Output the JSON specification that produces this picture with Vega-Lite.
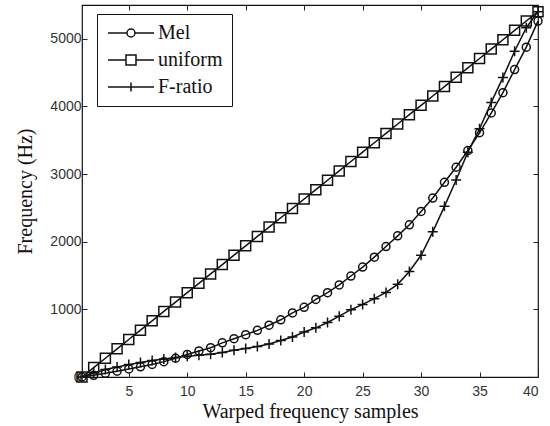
{
  "$schema": "https://vega.github.io/schema/vega-lite/v6.json",
  "width": 456,
  "height": 372,
  "autosize": {"type": "none"},
  "padding": {"left": 82, "top": 5, "right": 12, "bottom": 49},
  "background": "white",
  "config": {
    "view": {"stroke": "#111", "strokeWidth": 1.2},
    "axis": {
      "domain": false,
      "grid": false,
      "ticks": true,
      "tickSize": -5,
      "tickColor": "#222",
      "tickWidth": 1,
      "labelFont": "Liberation Sans",
      "labelFontSize": 14,
      "labelColor": "#333",
      "titleFont": "Liberation Serif",
      "titleFontSize": 20,
      "titleFontWeight": "normal",
      "titleColor": "#111"
    }
  },
  "data": {
    "values": [
      {"x": 1, "series": "Mel", "f": 0}, {"x": 2, "series": "Mel", "f": 25}, {"x": 3, "series": "Mel", "f": 55}, {"x": 4, "series": "Mel", "f": 85},
      {"x": 5, "series": "Mel", "f": 119}, {"x": 6, "series": "Mel", "f": 150}, {"x": 7, "series": "Mel", "f": 186}, {"x": 8, "series": "Mel", "f": 227},
      {"x": 9, "series": "Mel", "f": 277}, {"x": 10, "series": "Mel", "f": 333}, {"x": 11, "series": "Mel", "f": 385}, {"x": 12, "series": "Mel", "f": 433},
      {"x": 13, "series": "Mel", "f": 505}, {"x": 14, "series": "Mel", "f": 566}, {"x": 15, "series": "Mel", "f": 626}, {"x": 16, "series": "Mel", "f": 690},
      {"x": 17, "series": "Mel", "f": 766}, {"x": 18, "series": "Mel", "f": 846}, {"x": 19, "series": "Mel", "f": 948}, {"x": 20, "series": "Mel", "f": 1030},
      {"x": 21, "series": "Mel", "f": 1147}, {"x": 22, "series": "Mel", "f": 1246}, {"x": 23, "series": "Mel", "f": 1362}, {"x": 24, "series": "Mel", "f": 1493},
      {"x": 25, "series": "Mel", "f": 1625}, {"x": 26, "series": "Mel", "f": 1772}, {"x": 27, "series": "Mel", "f": 1929}, {"x": 28, "series": "Mel", "f": 2087},
      {"x": 29, "series": "Mel", "f": 2250}, {"x": 30, "series": "Mel", "f": 2448}, {"x": 31, "series": "Mel", "f": 2646}, {"x": 32, "series": "Mel", "f": 2879},
      {"x": 33, "series": "Mel", "f": 3101}, {"x": 34, "series": "Mel", "f": 3348}, {"x": 35, "series": "Mel", "f": 3611}, {"x": 36, "series": "Mel", "f": 3903},
      {"x": 37, "series": "Mel", "f": 4204}, {"x": 38, "series": "Mel", "f": 4545}, {"x": 39, "series": "Mel", "f": 4877}, {"x": 40, "series": "Mel", "f": 5262},

      {"x": 1, "series": "uniform", "f": 0}, {"x": 2, "series": "uniform", "f": 139}, {"x": 3, "series": "uniform", "f": 277}, {"x": 4, "series": "uniform", "f": 416},
      {"x": 5, "series": "uniform", "f": 554}, {"x": 6, "series": "uniform", "f": 693}, {"x": 7, "series": "uniform", "f": 831}, {"x": 8, "series": "uniform", "f": 970},
      {"x": 9, "series": "uniform", "f": 1108}, {"x": 10, "series": "uniform", "f": 1247}, {"x": 11, "series": "uniform", "f": 1385}, {"x": 12, "series": "uniform", "f": 1524},
      {"x": 13, "series": "uniform", "f": 1662}, {"x": 14, "series": "uniform", "f": 1801}, {"x": 15, "series": "uniform", "f": 1939}, {"x": 16, "series": "uniform", "f": 2078},
      {"x": 17, "series": "uniform", "f": 2216}, {"x": 18, "series": "uniform", "f": 2355}, {"x": 19, "series": "uniform", "f": 2493}, {"x": 20, "series": "uniform", "f": 2632},
      {"x": 21, "series": "uniform", "f": 2770}, {"x": 22, "series": "uniform", "f": 2909}, {"x": 23, "series": "uniform", "f": 3047}, {"x": 24, "series": "uniform", "f": 3186},
      {"x": 25, "series": "uniform", "f": 3324}, {"x": 26, "series": "uniform", "f": 3463}, {"x": 27, "series": "uniform", "f": 3601}, {"x": 28, "series": "uniform", "f": 3740},
      {"x": 29, "series": "uniform", "f": 3878}, {"x": 30, "series": "uniform", "f": 4017}, {"x": 31, "series": "uniform", "f": 4155}, {"x": 32, "series": "uniform", "f": 4294},
      {"x": 33, "series": "uniform", "f": 4432}, {"x": 34, "series": "uniform", "f": 4571}, {"x": 35, "series": "uniform", "f": 4709}, {"x": 36, "series": "uniform", "f": 4848},
      {"x": 37, "series": "uniform", "f": 4986}, {"x": 38, "series": "uniform", "f": 5125}, {"x": 39, "series": "uniform", "f": 5263}, {"x": 40, "series": "uniform", "f": 5402},

      {"x": 1, "series": "F-ratio", "f": 0}, {"x": 2, "series": "F-ratio", "f": 60}, {"x": 3, "series": "F-ratio", "f": 110}, {"x": 4, "series": "F-ratio", "f": 148},
      {"x": 5, "series": "F-ratio", "f": 183}, {"x": 6, "series": "F-ratio", "f": 215}, {"x": 7, "series": "F-ratio", "f": 243}, {"x": 8, "series": "F-ratio", "f": 265},
      {"x": 9, "series": "F-ratio", "f": 287}, {"x": 10, "series": "F-ratio", "f": 305}, {"x": 11, "series": "F-ratio", "f": 320}, {"x": 12, "series": "F-ratio", "f": 338},
      {"x": 13, "series": "F-ratio", "f": 362}, {"x": 14, "series": "F-ratio", "f": 395}, {"x": 15, "series": "F-ratio", "f": 420}, {"x": 16, "series": "F-ratio", "f": 452},
      {"x": 17, "series": "F-ratio", "f": 488}, {"x": 18, "series": "F-ratio", "f": 540}, {"x": 19, "series": "F-ratio", "f": 592}, {"x": 20, "series": "F-ratio", "f": 665},
      {"x": 21, "series": "F-ratio", "f": 727}, {"x": 22, "series": "F-ratio", "f": 806}, {"x": 23, "series": "F-ratio", "f": 899}, {"x": 24, "series": "F-ratio", "f": 995},
      {"x": 25, "series": "F-ratio", "f": 1073}, {"x": 26, "series": "F-ratio", "f": 1158}, {"x": 27, "series": "F-ratio", "f": 1250}, {"x": 28, "series": "F-ratio", "f": 1370},
      {"x": 29, "series": "F-ratio", "f": 1560}, {"x": 30, "series": "F-ratio", "f": 1800}, {"x": 31, "series": "F-ratio", "f": 2146}, {"x": 32, "series": "F-ratio", "f": 2523},
      {"x": 33, "series": "F-ratio", "f": 2913}, {"x": 34, "series": "F-ratio", "f": 3324}, {"x": 35, "series": "F-ratio", "f": 3670}, {"x": 36, "series": "F-ratio", "f": 4060},
      {"x": 37, "series": "F-ratio", "f": 4427}, {"x": 38, "series": "F-ratio", "f": 4817}, {"x": 39, "series": "F-ratio", "f": 5164}, {"x": 40, "series": "F-ratio", "f": 5402}
    ]
  },
  "layer": [
    {
      "mark": {"type": "line", "color": "#111", "strokeWidth": 1.5},
      "encoding": {
        "x": {
          "field": "x", "type": "quantitative",
          "scale": {"domain": [1, 40], "nice": false, "zero": false},
          "axis": {"orient": "bottom", "values": [5, 10, 15, 20, 25, 30, 35, 40], "format": "d", "title": "Warped frequency samples", "labelPadding": 12, "titlePadding": 3}
        },
        "y": {
          "field": "f", "type": "quantitative",
          "scale": {"domain": [0, 5500], "nice": false},
          "axis": {"orient": "left", "values": [0, 1000, 2000, 3000, 4000, 5000], "format": "d", "title": "Frequency (Hz)", "labelPadding": 6, "titlePadding": 14}
        },
        "detail": {"field": "series", "type": "nominal"}
      }
    },
    {
      "mark": {"type": "point", "filled": false, "color": "#111", "strokeWidth": 1.5, "opacity": 1, "size": 100},
      "encoding": {
        "x": {
          "field": "x", "type": "quantitative",
          "axis": {"orient": "top", "values": [5, 10, 15, 20, 25, 30, 35, 40], "labels": false, "title": null}
        },
        "y": {
          "field": "f", "type": "quantitative",
          "axis": {"orient": "right", "values": [0, 1000, 2000, 3000, 4000, 5000], "labels": false, "title": null}
        },
        "shape": {
          "field": "series", "type": "nominal",
          "scale": {
            "domain": ["Mel", "uniform", "F-ratio"],
            "range": ["M-0.8,0A0.8,0.8 0 1,0 0.8,0A0.8,0.8 0 1,0 -0.8,0Z", "M-1,-1L1,-1L1,1L-1,1Z", "M-1,0L1,0M0,-1L0,1"]
          },
          "legend": null
        }
      }
    },
    {
      "transform": [{"filter": "datum.x > 1000"}],
      "mark": {"type": "point", "filled": false, "color": "#111", "strokeWidth": 1.5, "opacity": 1, "size": 100},
      "encoding": {
        "shape": {
          "field": "series", "type": "nominal",
          "scale": {
            "domain": ["Mel", "uniform", "F-ratio"],
            "range": [
              "M-4.6,0L-0.8,0M0.8,0L4.6,0M-0.8,0A0.8,0.8 0 1,0 0.8,0A0.8,0.8 0 1,0 -0.8,0Z",
              "M-4.6,0L-1,0M1,0L4.6,0M-1,-1L1,-1L1,1L-1,1Z",
              "M-4.6,0L4.6,0M0,-0.9L0,0.9"
            ]
          },
          "legend": {
            "title": null,
            "orient": "none",
            "legendX": 15,
            "legendY": 9,
            "strokeColor": "#111",
            "fillColor": "white",
            "padding": 9,
            "symbolOffset": 15,
            "symbolSize": 100,
            "symbolStrokeWidth": 1.5,
            "symbolStrokeColor": "#111",
            "labelFont": "Liberation Serif",
            "labelFontSize": 20,
            "labelColor": "#111",
            "labelOffset": 17,
            "rowPadding": 7
          }
        }
      }
    }
  ],
  "resolve": {
    "axis": {"x": "independent", "y": "independent"},
    "scale": {"shape": "independent"},
    "legend": {"shape": "independent"}
  }
}
